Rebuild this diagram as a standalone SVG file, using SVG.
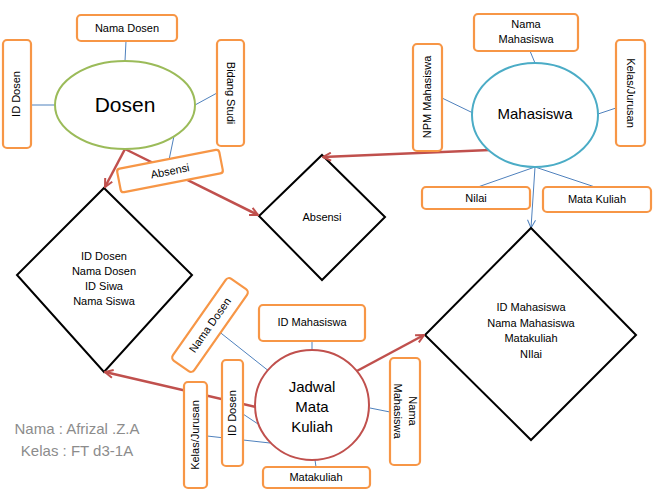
<svg xmlns="http://www.w3.org/2000/svg" width="661" height="501" viewBox="0 0 661 501">
<defs>
<marker id="ra" markerWidth="10" markerHeight="10" refX="9" refY="5" orient="auto" markerUnits="userSpaceOnUse"><path d="M1,1 L9,5 L1,9" fill="none" stroke="#c0504d" stroke-width="2"/></marker>
<marker id="ba" markerWidth="10" markerHeight="10" refX="9" refY="5" orient="auto" markerUnits="userSpaceOnUse"><path d="M1,1 L9,5 L1,9" fill="none" stroke="#4f81bd" stroke-width="1"/></marker>
</defs>
<style>
text{font-family:"Liberation Sans",Arial,sans-serif;font-size:11px;fill:#000;text-anchor:middle;dominant-baseline:middle}
.box{fill:#fff;stroke:#f79646;stroke-width:2.2}
.dia{fill:#fff;stroke:#000;stroke-width:2}
.bl{stroke:#4f81bd;stroke-width:1;fill:none}
.rd{stroke:#c0504d;stroke-width:2.5;fill:none;marker-end:url(#ra)}
.big{font-size:21px}
.mid{font-size:15px}
.gr{fill:#8c8c8c;font-size:15px}
</style>
<rect width="661" height="501" fill="#fff"/>
<g id="connectors">
<line class="bl" x1="126" y1="41" x2="125" y2="61"/>
<line class="bl" x1="31" y1="105" x2="55" y2="105"/>
<line class="bl" x1="217" y1="93" x2="195" y2="105"/>
<line class="bl" x1="174" y1="136" x2="169" y2="160"/>
<line class="bl" x1="530" y1="51" x2="535" y2="63"/>
<line class="bl" x1="442" y1="98" x2="473" y2="113"/>
<line class="bl" x1="616" y1="108" x2="598" y2="114"/>
<line class="bl" x1="535" y1="167" x2="475" y2="188"/>
<line class="bl" x1="535" y1="167" x2="598" y2="188"/>
<line class="bl" x1="535" y1="167" x2="531" y2="228" marker-end="url(#ba)"/>
<line class="bl" x1="312" y1="341" x2="312" y2="358"/>
<line class="bl" x1="217" y1="330" x2="270" y2="372"/>
<line class="bl" x1="370" y1="408" x2="390" y2="412"/>
<line class="bl" x1="314" y1="453" x2="316" y2="467"/>
<line class="bl" x1="243" y1="414" x2="264" y2="428"/>
<line class="bl" x1="207" y1="436" x2="270" y2="443"/>
</g>
<g id="n-absensi-dia"><polygon class="dia" points="322,155 385,217 322,280 259,216"/><text x="322" y="218">Absensi</text></g>
<g id="n-dosen-dia"><polygon class="dia" points="104,188 192,275 104,372 17,275"/>
<text x="104" y="257">ID Dosen</text><text x="104" y="272">Nama Dosen</text><text x="104" y="287">ID Siwa</text><text x="104" y="302">Nama Siswa</text></g>
<g id="n-mhs-dia"><polygon class="dia" points="531,228 636,335 531,440 425,335"/>
<text x="531" y="308">ID Mahasiswa</text><text x="531" y="324">Nama Mahasiswa</text><text x="531" y="339">Matakuliah</text><text x="531" y="355">NIlai</text></g>
<g id="arrows">
<line class="rd" x1="125" y1="149" x2="105" y2="187"/>
<line class="rd" x1="125" y1="149" x2="258" y2="215"/>
<line class="rd" x1="490" y1="150" x2="323" y2="157"/>
<line class="rd" x1="256" y1="407" x2="105" y2="372"/>
<line class="rd" x1="355" y1="372" x2="424" y2="335"/>
</g>
<g id="n-dosen"><ellipse cx="125" cy="105" rx="70" ry="44" fill="#fff" stroke="#9bbb59" stroke-width="2"/><text class="big" x="125" y="106">Dosen</text></g>
<g id="n-nama-dosen"><rect class="box" x="77" y="15" width="100" height="26" rx="4"/><text x="127" y="29">Nama Dosen</text></g>
<g id="n-id-dosen"><rect class="box" x="3" y="40" width="28" height="108" rx="4"/><text transform="translate(17,94) rotate(-90)">ID Dosen</text></g>
<g id="n-bidang"><rect class="box" x="217" y="40" width="27" height="106" rx="4"/><text transform="translate(230,93) rotate(90)">Bidang Studi</text></g>
<g id="n-absensi-attr"><g transform="translate(170,171) rotate(-11)"><rect class="box" x="-52" y="-12" width="104" height="24" rx="3"/><text x="0" y="1">Absensi</text></g></g>
<g id="n-mahasiswa"><ellipse cx="535" cy="115" rx="63" ry="52" fill="#fff" stroke="#4bacc6" stroke-width="2"/><text class="mid" x="535" y="115">Mahasiswa</text></g>
<g id="n-nama-mhs"><rect class="box" x="474" y="14" width="104" height="37" rx="4"/><text x="526" y="25">Nama</text><text x="526" y="40">Mahasiswa</text></g>
<g id="n-npm"><rect class="box" x="413" y="44" width="29" height="107" rx="4"/><text transform="translate(428,97) rotate(-90)">NPM Mahasiswa</text></g>
<g id="n-kelas1"><rect class="box" x="616" y="40" width="29" height="106" rx="4"/><text transform="translate(630,93) rotate(90)">Kelas/Jurusan</text></g>
<g id="n-nilai"><rect class="box" x="422" y="187" width="108" height="22" rx="4"/><text x="476" y="199">Nilai</text></g>
<g id="n-matkul"><rect class="box" x="543" y="187" width="108" height="25" rx="4"/><text x="597" y="200">Mata Kuliah</text></g>
<g id="n-jadwal"><ellipse cx="312" cy="405" rx="57" ry="55" fill="#fff" stroke="#c0504d" stroke-width="2"/><text class="mid" x="312" y="388">Jadwal</text><text class="mid" x="312" y="408">Mata</text><text class="mid" x="312" y="428">Kuliah</text></g>
<g id="n-id-mhs"><rect class="box" x="259" y="305" width="106" height="36" rx="4"/><text x="312" y="323">ID Mahasiswa</text></g>
<g id="n-nama-dosen2"><g transform="translate(210,325) rotate(-55)"><rect class="box" x="-50" y="-13" width="100" height="26" rx="4"/><text x="0" y="1">Nama Dosen</text></g></g>
<g id="n-id-dosen2"><rect class="box" x="222" y="360" width="21" height="106" rx="4"/><text transform="translate(233,413) rotate(-90)">ID Dosen</text></g>
<g id="n-kelas2"><rect class="box" x="184" y="382" width="23" height="106" rx="4"/><text transform="translate(196,435) rotate(-90)">Kelas/Jurusan</text></g>
<g id="n-nama-mhs2"><rect class="box" x="390" y="358" width="30" height="107" rx="4"/><g transform="translate(405,411) rotate(90)"><text x="0" y="-7">Nama</text><text x="0" y="8">Mahasiswa</text></g></g>
<g id="n-matakuliah"><rect class="box" x="263" y="467" width="107" height="21" rx="4"/><text x="316" y="478">Matakuliah</text></g>
<g id="caption"><text class="gr" x="77" y="430">Nama : Afrizal .Z.A</text><text class="gr" x="77" y="452">Kelas : FT d3-1A</text></g>
</svg>
